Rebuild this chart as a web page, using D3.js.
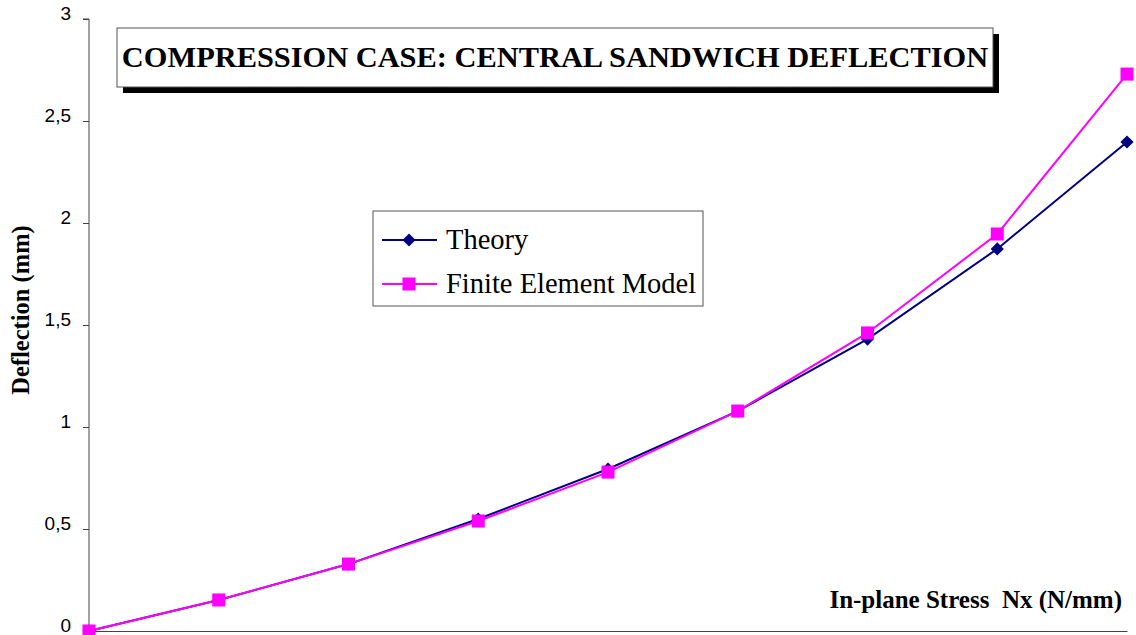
<!DOCTYPE html>
<html>
<head>
<meta charset="utf-8">
<script src="https://cdn.jsdelivr.net/npm/d3@7"></script>
<style>
  body { margin: 0; background: #fff; }
  svg { display: block; }
</style>
</head>
<body>
<svg width="1136" height="635"></svg>
<script>
// load steps along the x axis (no tick labels shown in the original)
var loadSteps = [0, 1, 2, 3, 4, 5, 6, 7, 8];
var theory = [0, 0.152, 0.328, 0.549, 0.794, 1.078, 1.431, 1.873, 2.397];
var fem = [0, 0.152, 0.328, 0.539, 0.779, 1.078, 1.461, 1.946, 2.730];
var yTicks = [0, 0.5, 1, 1.5, 2, 2.5, 3];
var seriesNames = ['Theory', 'Finite Element Model'];

var svg = d3.select('svg');
var padding = {t: 19, r: 9, b: 4, l: 89};
var width = 1136 - padding.l - padding.r;
var height = 635 - padding.t - padding.b;

var xScale = d3.scaleLinear().domain([0, 8]).range([0, width]);
var yScale = d3.scaleLinear().domain([0, 3]).range([height, 0]);

var serif = 'Liberation Serif, Times New Roman, serif';

var chartG = svg.append('g')
    .attr('transform', 'translate(' + [padding.l, padding.t] + ')');

// y axis
var yAxis = d3.axisLeft(yScale).tickValues(yTicks).tickSize(6).tickPadding(12)
    .tickFormat(function(d) { return String(d).replace('.', ','); });
var yG = chartG.append('g').call(yAxis);
yG.select('.domain').attr('stroke', '#444').attr('d', 'M-6,' + height + 'H0V0H-6');
yG.selectAll('.tick line').attr('stroke', '#444');
yG.selectAll('.tick text')
    .style('font-family', 'Liberation Sans, Arial, sans-serif')
    .style('font-size', '19px').attr('fill', '#000').attr('dy', '0.05em');

// x axis (plain line)
var xAxis = d3.axisBottom(xScale).tickValues([]).tickSizeOuter(0);
var xG = chartG.append('g').attr('transform', 'translate(0,' + height + ')').call(xAxis);
xG.select('.domain').attr('stroke', '#444');

// axis titles
svg.append('text')
    .attr('transform', 'translate(29,310) rotate(-90)')
    .attr('text-anchor', 'middle')
    .style('font-family', serif)
    .style('font-weight', 'bold').style('font-size', '24.5px')
    .text('Deflection (mm)');
svg.append('text')
    .attr('x', 1122).attr('y', 608)
    .attr('text-anchor', 'end')
    .style('font-family', serif)
    .style('font-weight', 'bold').style('font-size', '25px')
    .text('In-plane Stress\u00a0 Nx (N/mm)');

// series
var line = d3.line()
    .x(function(d, i) { return xScale(loadSteps[i]); })
    .y(function(d) { return yScale(d); });

var colors = ['#000080', '#ff00ff'];
var symbols = [d3.symbolDiamond2, d3.symbolSquare];
var symSize = [110, 170];

[theory, fem].forEach(function(data, k) {
    chartG.append('path').datum(data)
        .attr('d', line).attr('fill', 'none')
        .attr('stroke', colors[k]).attr('stroke-width', 2);
});
[theory, fem].forEach(function(data, k) {
    chartG.selectAll('.m' + k).data(data).enter()
        .append('path').attr('class', 'm' + k)
        .attr('transform', function(d, i) {
            return 'translate(' + xScale(loadSteps[i]) + ',' + yScale(d) + ')';
        })
        .attr('d', d3.symbol().type(symbols[k]).size(symSize[k]))
        .attr('fill', colors[k]);
});

// title box with shadow
svg.append('rect').attr('x', 123).attr('y', 34).attr('width', 876).attr('height', 59).attr('fill', '#000');
svg.append('rect').attr('x', 117).attr('y', 28).attr('width', 876).attr('height', 59)
    .attr('fill', '#fff').attr('stroke', '#555').attr('stroke-width', 1);
svg.append('text')
    .attr('x', 555).attr('y', 67).attr('text-anchor', 'middle')
    .style('font-family', serif)
    .style('font-weight', 'bold').style('font-size', '30.4px')
    .text('COMPRESSION CASE: CENTRAL SANDWICH DEFLECTION');

// legend
var legG = svg.append('g').attr('transform', 'translate(373,211)');
legG.append('rect').attr('width', 330).attr('height', 95)
    .attr('fill', '#fff').attr('stroke', '#555').attr('stroke-width', 1);
seriesNames.forEach(function(name, k) {
    var y = 29 + k * 44;
    legG.append('line').attr('x1', 9).attr('x2', 64).attr('y1', y).attr('y2', y)
        .attr('stroke', colors[k]).attr('stroke-width', 2);
    legG.append('path').attr('transform', 'translate(36,' + y + ')')
        .attr('d', d3.symbol().type(symbols[k]).size(symSize[k])).attr('fill', colors[k]);
    legG.append('text').attr('x', 73).attr('y', y + 9)
        .style('font-family', serif)
        .style('font-size', '28.5px').text(name);
});
</script>
</body>
</html>
